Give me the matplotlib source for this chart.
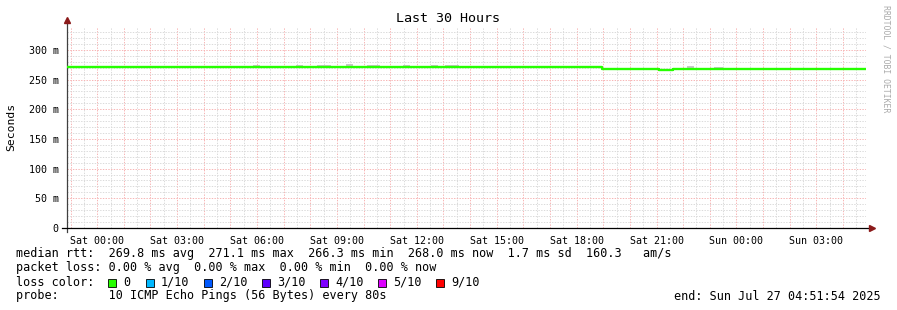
import matplotlib
matplotlib.use("Agg")
import matplotlib.pyplot as plt
from matplotlib.patches import Rectangle

W, H = 897, 310
MONO = "DejaVu Sans Mono"

# time axis in hours after window start (Fri 22:51:54), 30 hours shown
hours_total = 30.0
first_full_hour = 0.135          # Fri 23:00
tick_labels = ["Sat 00:00", "Sat 03:00", "Sat 06:00", "Sat 09:00",
               "Sat 12:00", "Sat 15:00", "Sat 18:00", "Sat 21:00",
               "Sun 00:00", "Sun 03:00"]

# median rtt in ms, as steps
seg_start = [0.0, 20.09, 22.23, 22.76, 24.63]
seg_end = [20.09, 22.23, 22.76, 24.63, 30.0]
median_ms = [271.3, 267.0, 266.4, 267.0, 268.1]

# smoke (ping spread above the median)
smoke_start = [6.98, 8.60, 9.39, 10.48, 11.27, 12.62, 13.67, 14.19, 23.28, 24.30]
smoke_end = [7.25, 8.86, 9.91, 10.74, 11.75, 12.88, 13.93, 14.72, 23.54, 24.63]
smoke_top = [274.0, 273.8, 273.6, 276.0, 273.8, 273.8, 273.8, 273.6, 272.5, 271.8]

loss_labels = ["0", "1/10", "2/10", "3/10", "4/10", "5/10", "9/10"]
loss_colors = ["#26ff00", "#00b8ff", "#0059ff", "#5e00ff", "#7e00ff", "#dd00ff", "#ff0000"]

y_max_ms = 338.4


def fx(x):
    return x / W


def fy(y):
    return 1 - y / H


fig = plt.figure(figsize=(W / 100, H / 100), dpi=100)
ax = fig.add_axes([fx(67), fy(228), 799 / W, 201 / H])
ax.set_xlim(0, hours_total)
ax.set_ylim(0, y_max_ms / 1000)
for s in ax.spines.values():
    s.set_visible(False)

# grid: hourly red, half-hourly grey; 50 m red, 10 m grey
hour_ticks = [first_full_hour + i for i in range(30)]
half_ticks = [first_full_hour + 0.5 + i for i in range(30)]
labels = []
for i in range(30):
    labels.append(tick_labels[(i - 1) // 3] if i >= 1 and (i - 1) % 3 == 0 else "")
ax.set_xticks(hour_ticks, labels=labels)
ax.set_xticks(half_ticks, minor=True)
ax.set_yticks([v / 1000 for v in range(0, 301, 50)],
              labels=["0"] + ["%d m" % v for v in range(50, 301, 50)])
ax.set_yticks([v / 1000 for v in range(10, 331, 10)], minor=True)
ax.grid(which="major", color="#f7b4b4", linestyle=(0, (1.4, 1.4)), linewidth=0.7)
ax.grid(which="minor", color="#dadada", linestyle=(0, (1.4, 1.4)), linewidth=0.7)
ax.tick_params(which="both", length=0)
ax.tick_params(axis="x", pad=6, labelsize=7.2)
ax.tick_params(axis="y", pad=6, labelsize=7.2)
for t in ax.get_xticklabels() + ax.get_yticklabels():
    t.set_fontfamily(MONO)

# smoke
for s0, s1, top, in zip(smoke_start, smoke_end, smoke_top):
    base = median_ms[[i for i in range(len(seg_start)) if seg_start[i] <= s0][-1]]
    ax.fill_between([s0, s1], base / 1000, top / 1000, color="#c8c8c8", lw=0, zorder=2)

# median line
xs, ys = [], []
for a, b, v in zip(seg_start, seg_end, median_ms):
    xs += [a, b]
    ys += [v / 1000, v / 1000]
ax.plot(xs, ys, color="#26ff00", lw=1.7, zorder=3, solid_capstyle="butt")

# axes with arrows
ax.plot([0, 0], [-0.02, 1.02], transform=ax.transAxes, color="#404040", lw=0.9, clip_on=False)
ax.plot([-0.006, 1.006], [0, 0], transform=ax.transAxes, color="#000000", lw=0.9, clip_on=False)
ax.plot([0], [1.035], transform=ax.transAxes, marker="^", color="#8b1a1a", ms=4, clip_on=False)
ax.plot([1.008], [0], transform=ax.transAxes, marker=">", color="#8b1a1a", ms=4, clip_on=False)

# texts
fig.text(fx(448), fy(19), "Last 30 Hours", family=MONO, fontsize=9.6, ha="center", va="center")
fig.text(fx(11), fy(127), "Seconds", family=MONO, fontsize=8.2, rotation=90, ha="center", va="center")
fig.text(fx(886), fy(59), "RRDTOOL / TOBI OETIKER", family=MONO, fontsize=5.9, rotation=270,
         ha="center", va="center", color="#aaaaaa")

fs = 8.5
fig.text(fx(16), fy(254), "median rtt:  269.8 ms avg  271.1 ms max  266.3 ms min  268.0 ms now  1.7 ms sd  160.3   am/s",
         family=MONO, fontsize=fs, va="center")
fig.text(fx(16), fy(268), "packet loss: 0.00 % avg  0.00 % max  0.00 % min  0.00 % now",
         family=MONO, fontsize=fs, va="center")
fig.text(fx(16), fy(282), "loss color:", family=MONO, fontsize=fs, va="center")
box_x = [108, 146, 204, 262, 320, 378, 436]
for bx, lab, col in zip(box_x, loss_labels, loss_colors):
    fig.patches.append(Rectangle((fx(bx), fy(286.5)), 8 / W, 8 / H, transform=fig.transFigure,
                                 facecolor=col, edgecolor="black", lw=0.6))
    fig.text(fx(bx + 15), fy(282), lab, family=MONO, fontsize=fs, va="center")
fig.text(fx(16), fy(296), "probe:       10 ICMP Echo Pings (56 Bytes) every 80s",
         family=MONO, fontsize=fs, va="center")
fig.text(fx(881), fy(296), "end: Sun Jul 27 04:51:54 2025", family=MONO, fontsize=fs,
         va="center", ha="right")

fig.savefig("out.png", dpi=100)
